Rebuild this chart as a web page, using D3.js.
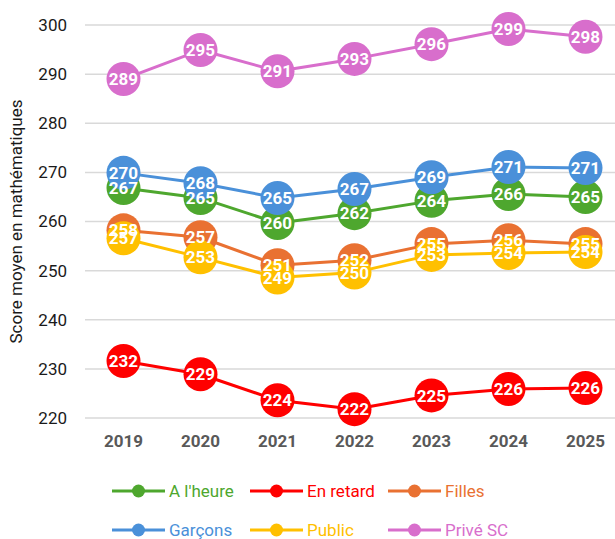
<!DOCTYPE html>
<html>
<head>
<meta charset="utf-8">
<script src="https://cdn.jsdelivr.net/npm/d3@7"></script>
<style>
  body { margin: 0; background: #fff; }
  svg { display: block; font-family: Roboto, "Noto Sans", sans-serif; }
</style>
</head>
<body>
<div id="chart"></div>
<script>
const years = ['2019', '2020', '2021', '2022', '2023', '2024', '2025']
const yTicks = [220, 230, 240, 250, 260, 270, 280, 290, 300]

const aLheure = [266.8, 264.8, 259.7, 261.7, 264.2, 265.6, 265.0]
const enRetard = [231.6, 228.9, 223.6, 221.8, 224.6, 225.9, 226.1]
const filles = [258.2, 256.8, 251.1, 252.1, 255.4, 256.2, 255.4]
const garcons = [269.9, 267.8, 264.8, 266.6, 269.0, 271.1, 270.9]
const publicS = [256.6, 252.7, 248.6, 249.6, 253.2, 253.6, 253.8]
const prive = [289.0, 294.9, 290.6, 293.1, 296.1, 299.2, 297.6]

const seriesNames = ["A l'heure", 'En retard', 'Filles', 'Garçons', 'Public', 'Privé SC']
const seriesValues = [aLheure, enRetard, filles, garcons, publicS, prive]
const seriesColors = ['#4ea72e', '#ff0000', '#e97132', '#4a90d9', '#ffc000', '#d86ecc']

const width = 615, height = 539
const margin = {top: 25, right: -9, bottom: 121, left: 85}

const svg = d3.select('#chart').append('svg')
  .attr('width', width)
  .attr('height', height)

const x = d3.scaleBand()
  .domain(years)
  .range([margin.left, width - margin.right])
const y = d3.scaleLinear()
  .domain([220, 300])
  .range([height - margin.bottom, margin.top])
const cx = d => x(d) + x.bandwidth() / 2

// grid
svg.append('g').selectAll('line')
  .data(yTicks)
  .enter().append('line')
  .attr('x1', margin.left)
  .attr('x2', width - margin.right)
  .attr('y1', d => y(d))
  .attr('y2', d => y(d))
  .attr('stroke', '#d9d9d9')
  .attr('stroke-width', 1.5)

// y tick labels
svg.append('g').selectAll('text')
  .data(yTicks)
  .enter().append('text')
  .attr('x', 67)
  .attr('y', d => y(d))
  .attr('dy', '0.35em')
  .attr('text-anchor', 'end')
  .attr('fill', '#1a1a1a')
  .style('font-size', '17px')
  .text(d => d)

// x tick labels
svg.append('g').selectAll('text')
  .data(years)
  .enter().append('text')
  .attr('x', d => cx(d))
  .attr('y', 447)
  .attr('text-anchor', 'middle')
  .attr('fill', '#595959')
  .style('font-size', '17px')
  .style('font-weight', 'bold')
  .text(d => d)

// axis title
svg.append('text')
  .attr('transform', `translate(22, ${(margin.top + height - margin.bottom) / 2}) rotate(-90)`)
  .attr('text-anchor', 'middle')
  .attr('fill', '#1a1a1a')
  .style('font-size', '17px')
  .text('Score moyen en mathématiques')

const line = d3.line()
  .x((d, i) => cx(years[i]))
  .y(d => y(d))

const marks = svg.append('g')
seriesValues.forEach((vals, si) => {
  const g = marks.append('g')
  g.append('path')
    .attr('d', line(vals))
    .attr('fill', 'none')
    .attr('stroke', seriesColors[si])
    .attr('stroke-width', 3)
    .attr('stroke-linejoin', 'round')
  g.selectAll('circle')
    .data(vals)
    .enter().append('circle')
    .attr('cx', (d, i) => cx(years[i]))
    .attr('cy', d => y(d))
    .attr('r', 17)
    .attr('fill', seriesColors[si])
})

// data labels on top of all series
const labels = svg.append('g')
seriesValues.forEach(vals => {
  labels.append('g').selectAll('text')
    .data(vals)
    .enter().append('text')
    .attr('x', (d, i) => cx(years[i]))
    .attr('y', d => y(d))
    .attr('text-anchor', 'middle')
    .attr('dy', '0.36em')
    .attr('fill', '#fff')
    .style('font-size', '17px')
    .style('font-weight', 'bold')
    .text(d => Math.round(d))
})

// legend
const legendPos = [[112, 491], [250, 491], [388, 491], [112, 530], [250, 530], [388, 530]]
const legend = svg.append('g').selectAll('g')
  .data(seriesNames)
  .enter().append('g')
  .attr('transform', (d, i) => `translate(${legendPos[i][0]}, ${legendPos[i][1]})`)
legend.append('line')
  .attr('x1', 0).attr('x2', 53)
  .attr('stroke', (d, i) => seriesColors[i])
  .attr('stroke-width', 3)
legend.append('circle')
  .attr('cx', 26.5)
  .attr('r', 6.5)
  .attr('fill', (d, i) => seriesColors[i])
legend.append('text')
  .attr('x', 57)
  .attr('dy', '0.35em')
  .attr('fill', (d, i) => seriesColors[i])
  .style('font-size', '17px')
  .text(d => d)
</script>
</body>
</html>
